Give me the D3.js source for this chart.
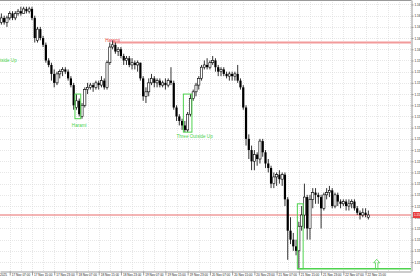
<!DOCTYPE html>
<html>
<head>
<meta charset="utf-8">
<title>EURUSD H1 : candle patterns</title>
<script src="https://d3js.org/d3.v7.min.js"></script>
<style>
  body { margin: 0; background: #fff; }
  svg { display: block; font-family: "Liberation Sans", Arial, sans-serif; }
  .grid-line { stroke: #d6d6d6; stroke-width: 0.6px; stroke-dasharray: 1,1; }
  .axis path, .axis line { stroke: #9a9a9a; }
  .axis text { fill: #222; }
</style>
</head>
<body>
<script>
const width = 420;
const height = 280;
const plotW = 411;
const plotH = 271;

// hourly EURUSD candles, 17 Nov 04:00 -> 22 Nov 16:00
const opens = [1.1612,1.1614,1.1612,1.1614,1.1616,1.1614,1.1616,1.1617,1.1616,1.1618,1.1617,1.1618,1.1614,1.1604,1.1609,1.1605,1.1602,1.1595,1.1593,1.1589,
  1.1585,1.1589,1.1590,1.1591,1.1590,1.1587,1.1584,1.1574,1.1577,1.1570,1.1575,1.1582,1.1583,1.1584,1.1583,1.1585,1.1584,1.1586,1.1583,1.1594,
  1.1601,1.1602,1.1599,1.1600,1.1597,1.1595,1.1596,1.1593,1.1594,1.1593,1.1594,1.1587,1.1579,1.1581,1.1585,1.1587,1.1585,1.1586,1.1584,1.1585,
  1.1584,1.1586,1.1585,1.1574,1.1570,1.1568,1.1566,1.1564,1.1571,1.1578,1.1581,1.1584,1.1587,1.1592,1.1593,1.1592,1.1594,1.1595,1.1592,1.1590,
  1.1591,1.1589,1.1588,1.1589,1.1588,1.1589,1.1586,1.1583,1.1574,1.1560,1.1555,1.1550,1.1553,1.1551,1.1559,1.1554,1.1549,1.1547,1.1540,1.1543,
  1.1544,1.1542,1.1544,1.1533,1.1519,1.1515,1.1512,1.1510,1.1521,1.1526,1.1534,1.1520,1.1533,1.1536,1.1535,1.1534,1.1529,1.1535,1.1536,1.1537,
  1.1530,1.1535,1.1532,1.1531,1.1532,1.1530,1.1531,1.1532,1.1529,1.1527,1.1526,1.1527,1.1525];
const highs = [1.1616,1.1615,1.1615,1.1617,1.1617,1.1617,1.1618,1.1619,1.1619,1.1619,1.1619,1.1619,1.1615,1.1610,1.1610,1.1606,1.1603,1.1596,1.1594,1.1591,
  1.1590,1.1591,1.1592,1.1592,1.1591,1.1588,1.1585,1.1580,1.1578,1.1576,1.1583,1.1585,1.1585,1.1585,1.1586,1.1586,1.1588,1.1587,1.1595,1.1603,
  1.1604,1.1603,1.1601,1.1601,1.1598,1.1597,1.1597,1.1596,1.1595,1.1595,1.1594,1.1588,1.1583,1.1587,1.1589,1.1588,1.1587,1.1587,1.1586,1.1587,
  1.1587,1.1592,1.1586,1.1575,1.1571,1.1569,1.1568,1.1572,1.1580,1.1582,1.1585,1.1588,1.1593,1.1595,1.1596,1.1595,1.1597,1.1596,1.1593,1.1592,
  1.1592,1.1590,1.1590,1.1590,1.1590,1.1593,1.1587,1.1584,1.1575,1.1562,1.1557,1.1555,1.1554,1.1560,1.1560,1.1555,1.1551,1.1548,1.1545,1.1545,
  1.1546,1.1545,1.1545,1.1534,1.1525,1.1518,1.1515,1.1523,1.1530,1.1540,1.1535,1.1535,1.1538,1.1538,1.1536,1.1535,1.1536,1.1538,1.1539,1.1538,
  1.1536,1.1536,1.1533,1.1533,1.1533,1.1533,1.1533,1.1533,1.1530,1.1528,1.1529,1.1529,1.1528];
const lows = [1.1611,1.1611,1.1610,1.1613,1.1613,1.1613,1.1615,1.1615,1.1616,1.1616,1.1616,1.1613,1.1603,1.1603,1.1604,1.1601,1.1594,1.1592,1.1586,1.1583,
  1.1584,1.1587,1.1588,1.1589,1.1586,1.1583,1.1573,1.1573,1.1570,1.1569,1.1574,1.1580,1.1582,1.1581,1.1582,1.1582,1.1583,1.1582,1.1582,1.1593,
  1.1600,1.1598,1.1597,1.1596,1.1593,1.1593,1.1592,1.1591,1.1591,1.1590,1.1586,1.1577,1.1576,1.1579,1.1584,1.1583,1.1583,1.1583,1.1583,1.1582,
  1.1583,1.1584,1.1573,1.1568,1.1566,1.1564,1.1563,1.1563,1.1570,1.1577,1.1579,1.1582,1.1586,1.1591,1.1591,1.1591,1.1593,1.1590,1.1588,1.1588,
  1.1588,1.1587,1.1586,1.1586,1.1586,1.1585,1.1582,1.1573,1.1557,1.1551,1.1546,1.1546,1.1548,1.1549,1.1552,1.1547,1.1545,1.1538,1.1538,1.1539,
  1.1540,1.1539,1.1530,1.1506,1.1513,1.1510,1.1508,1.1502,1.1519,1.1520,1.1515,1.1515,1.1529,1.1531,1.1531,1.1520,1.1528,1.1533,1.1534,1.1529,
  1.1529,1.1530,1.1529,1.1530,1.1528,1.1528,1.1529,1.1528,1.1526,1.1524,1.1525,1.1525,1.1524];
const closes = [1.1614,1.1612,1.1614,1.1616,1.1614,1.1616,1.1617,1.1616,1.1618,1.1617,1.1618,1.1614,1.1605,1.1609,1.1605,1.1602,1.1595,1.1593,1.1589,1.1585,
  1.1589,1.1590,1.1591,1.1590,1.1587,1.1584,1.1575,1.1577,1.1571,1.1575,1.1582,1.1583,1.1584,1.1583,1.1585,1.1584,1.1586,1.1583,1.1594,1.1601,
  1.1602,1.1599,1.1600,1.1597,1.1595,1.1596,1.1593,1.1594,1.1593,1.1594,1.1587,1.1579,1.1581,1.1585,1.1587,1.1585,1.1586,1.1584,1.1585,1.1584,
  1.1586,1.1585,1.1574,1.1570,1.1568,1.1566,1.1564,1.1571,1.1578,1.1581,1.1584,1.1587,1.1592,1.1593,1.1592,1.1594,1.1595,1.1592,1.1590,1.1591,
  1.1589,1.1588,1.1589,1.1588,1.1589,1.1586,1.1583,1.1574,1.1560,1.1555,1.1550,1.1553,1.1551,1.1559,1.1554,1.1549,1.1547,1.1540,1.1543,1.1544,
  1.1542,1.1544,1.1533,1.1519,1.1515,1.1512,1.1510,1.1521,1.1526,1.1534,1.1520,1.1533,1.1536,1.1535,1.1534,1.1529,1.1535,1.1536,1.1537,1.1530,
  1.1535,1.1532,1.1531,1.1532,1.1530,1.1531,1.1532,1.1529,1.1527,1.1526,1.1527,1.1526,1.1526];

const priceTicks = [1.1505,1.1510,1.1515,1.1520,1.1525,1.1530,1.1535,1.1540,1.1545,1.1550,1.1555,1.1560,
  1.1565,1.1570,1.1575,1.1580,1.1585,1.1590,1.1595,1.1600,1.1605,1.1610,1.1615,1.1620];
const timeTicks = [3,11,19,27,35,43,51,59,67,75,83,91,99,107,115,123,131];
const timeLabels = ["17 Nov 07:00","17 Nov 15:00","17 Nov 23:00","18 Nov 07:00","18 Nov 15:00","18 Nov 23:00",
  "19 Nov 07:00","19 Nov 15:00","19 Nov 23:00","20 Nov 07:00","20 Nov 15:00","20 Nov 23:00",
  "21 Nov 07:00","21 Nov 15:00","21 Nov 23:00","22 Nov 07:00","22 Nov 15:00"];
const firstDate = "17 Nov 2025";
const bidPrice = 1.1526;

// pattern marks: [first bar, last bar, top, bottom]
const patternBoxes = [[27, 28, 1.1580, 1.1569], [66, 68, 1.1580, 1.1563], [107, 108, 1.1531, 1.1502]];
const patternLabels = ["Three Outside Up", "Harami", "Three Outside Up", "Harami"];
const patternLabelBars = [-1, 28, 69.5, 40];
const patternLabelPrices = [1.1595, 1.1566, 1.1561, 1.1604];
const patternKinds = ["bull", "bull", "bull", "bear"];
const resistance = {bar: 40, price: 1.1603};
const support = {bar: 107, price: 1.1502};
const arrowMark = {bar: 135, price: 1.1504};

const kindColor = {bull: "#4fd34f", bear: "#e8413f"};

const xScale = d3.scaleLinear().domain([-0.5, 147.34]).range([0, plotW]);
const yScale = d3.scaleLinear().domain([1.1501, 1.1622]).range([plotH, 0]);

const svg = d3.select("body").append("svg")
    .attr("width", width)
    .attr("height", height);

const clip = svg.append("defs").append("clipPath").attr("id", "plot-clip");
clip.append("rect").attr("width", plotW).attr("height", plotH);

// grid
const grid = svg.append("g").attr("clip-path", "url(#plot-clip)");
grid.selectAll("line.h")
  .data(priceTicks)
  .enter().append("line")
    .classed("grid-line", true)
    .attr("x1", 0).attr("x2", plotW)
    .attr("y1", d => Math.round(yScale(d)) + 0.5)
    .attr("y2", d => Math.round(yScale(d)) + 0.5);
grid.selectAll("line.v")
  .data(d3.range(3, 148, 4))
  .enter().append("line")
    .classed("grid-line", true)
    .attr("y1", 0).attr("y2", plotH)
    .attr("x1", d => Math.round(xScale(d)) + 0.5)
    .attr("x2", d => Math.round(xScale(d)) + 0.5);

const plot = svg.append("g").attr("clip-path", "url(#plot-clip)");

// bid line and resistance line
plot.append("line")
    .attr("x1", 0).attr("x2", plotW)
    .attr("y1", yScale(bidPrice)).attr("y2", yScale(bidPrice))
    .attr("stroke", "#e86a6a").attr("stroke-width", 1);
plot.append("line")
    .attr("x1", xScale(resistance.bar)).attr("x2", plotW)
    .attr("y1", yScale(resistance.price)).attr("y2", yScale(resistance.price))
    .attr("stroke", "#f29a9a").attr("stroke-width", 2);

// candles
const bars = d3.range(opens.length);
const candle = plot.selectAll("g.candle")
  .data(bars)
  .enter().append("g")
    .classed("candle", true);
candle.append("line")
    .attr("x1", i => xScale(i)).attr("x2", i => xScale(i))
    .attr("y1", i => yScale(highs[i])).attr("y2", i => yScale(lows[i]))
    .attr("stroke", "#000").attr("stroke-width", 0.8);
candle.append("rect")
    .attr("x", i => xScale(i) - 1.1)
    .attr("width", 2.2)
    .attr("y", i => yScale(Math.max(opens[i], closes[i])))
    .attr("height", i => Math.max(0.7, Math.abs(yScale(opens[i]) - yScale(closes[i]))))
    .attr("fill", i => closes[i] > opens[i] ? "#fff" : "#000")
    .attr("stroke", "#000")
    .attr("stroke-width", i => closes[i] > opens[i] ? 0.6 : 0);

// pattern boxes
plot.selectAll("rect.pattern")
  .data(patternBoxes)
  .enter().append("rect")
    .classed("pattern", true)
    .attr("x", d => xScale(d[0]) - 1.5)
    .attr("y", d => yScale(d[2]))
    .attr("width", d => xScale(d[1]) - xScale(d[0]) + 3)
    .attr("height", d => yScale(d[3]) - yScale(d[2]))
    .attr("fill", "none")
    .attr("stroke", kindColor.bull)
    .attr("stroke-width", 1);

plot.append("line")
    .attr("x1", xScale(support.bar) - 1.5).attr("x2", plotW)
    .attr("y1", yScale(support.price)).attr("y2", yScale(support.price))
    .attr("stroke", kindColor.bull).attr("stroke-width", 1.6);

plot.selectAll("text.pattern")
  .data(patternLabels)
  .enter().append("text")
    .classed("pattern", true)
    .attr("x", (d, i) => xScale(patternLabelBars[i]))
    .attr("y", (d, i) => yScale(patternLabelPrices[i]))
    .attr("dy", "0.35em")
    .attr("text-anchor", "middle")
    .attr("font-size", 4.6)
    .attr("fill", (d, i) => kindColor[patternKinds[i]])
    .text(d => d);

// up arrow
const ax = xScale(arrowMark.bar), ay = yScale(arrowMark.price);
plot.append("path")
    .attr("d", "M0,-5 L3,-1.5 L1.2,-1.5 L1.2,4.5 L-1.2,4.5 L-1.2,-1.5 L-3,-1.5 Z")
    .attr("transform", "translate(" + ax + "," + ay + ")")
    .attr("fill", "none")
    .attr("stroke", kindColor.bull)
    .attr("stroke-width", 0.8);

// frame top
svg.append("line")
    .attr("x1", 0).attr("x2", plotW + 0.5)
    .attr("y1", 0.5).attr("y2", 0.5)
    .attr("stroke", "#9a9a9a");

// price axis
const yAxis = d3.axisRight(yScale)
    .tickValues(priceTicks)
    .tickSize(2)
    .tickSizeOuter(0)
    .tickPadding(1)
    .tickFormat(d3.format(".5f"));
svg.append("g")
    .classed("axis", true)
    .attr("transform", "translate(" + (plotW + 0.5) + ",0)")
    .call(yAxis)
    .selectAll("text").attr("font-size", 3.1);

// bid label
const by = yScale(bidPrice);
svg.append("rect")
    .attr("x", plotW + 2).attr("y", by - 3)
    .attr("width", 12).attr("height", 6)
    .attr("fill", "#e83e3e");
svg.append("text")
    .attr("x", plotW + 3).attr("y", by)
    .attr("dy", "0.35em")
    .attr("font-size", 3.1)
    .attr("fill", "#fff")
    .text(d3.format(".5f")(bidPrice));

// time axis
const xAxis = d3.axisBottom(xScale)
    .tickValues(timeTicks)
    .tickSize(4)
    .tickSizeOuter(0)
    .tickFormat((d, i) => timeLabels[i]);
const gx = svg.append("g")
    .classed("axis", true)
    .attr("transform", "translate(0," + (plotH + 0.5) + ")")
    .call(xAxis);
gx.selectAll("text")
    .attr("text-anchor", "start")
    .attr("x", 1.5)
    .attr("y", 2)
    .attr("font-size", 3.1);
gx.append("text")
    .attr("x", 7)
    .attr("y", 2)
    .attr("dy", "0.71em")
    .attr("text-anchor", "end")
    .attr("font-size", 3.1)
    .attr("fill", "#222")
    .text(firstDate);
</script>
</body>
</html>
